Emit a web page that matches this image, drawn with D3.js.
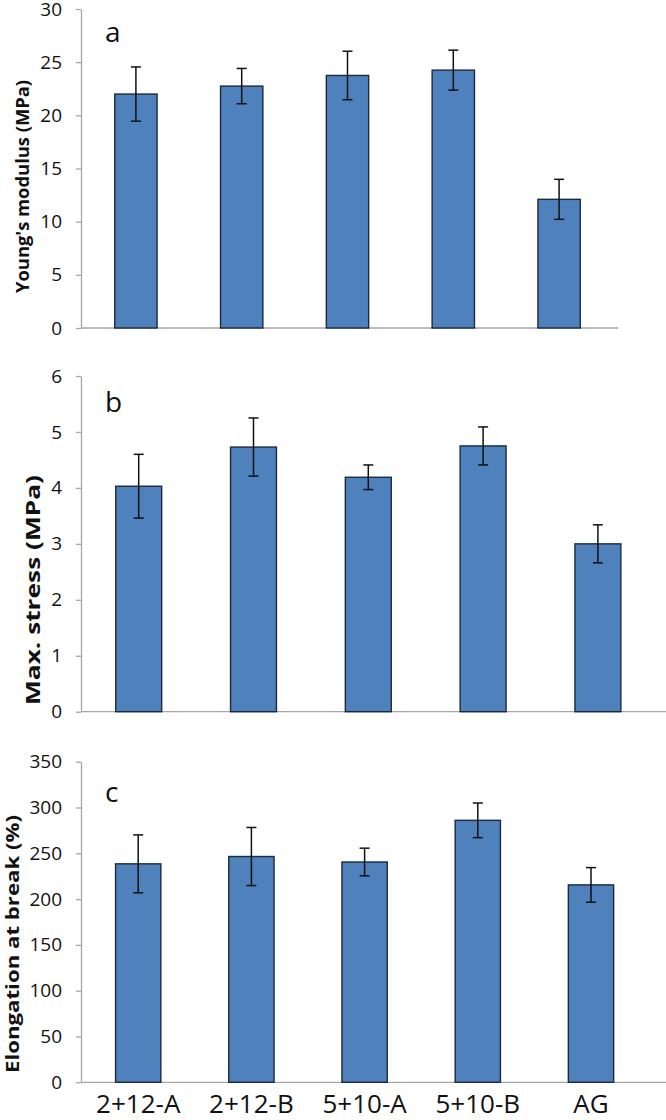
<!DOCTYPE html>
<html>
<head>
<meta charset="utf-8">
<script src="https://cdn.jsdelivr.net/npm/d3@7"></script>
<style>
  html, body { margin: 0; padding: 0; background: #ffffff; }
  svg { display: block; }
</style>
</head>
<body>
<svg id="chart" width="666" height="1120"></svg>
<script>
// ---- data ----
const categories = ["2+12-A", "2+12-B", "5+10-A", "5+10-B", "AG"];

const youngsModulus    = [22.0, 22.75, 23.75, 24.25, 12.1];
const youngsModulusErr = [2.55, 1.66, 2.28, 1.88, 1.88];

const maxStress    = [4.03, 4.73, 4.19, 4.75, 3.0];
const maxStressErr = [0.57, 0.52, 0.22, 0.34, 0.34];

const elongation    = [238.5, 246.5, 240.5, 286, 215.5];
const elongationErr = [31.6, 31.7, 15.1, 18.9, 18.9];

const ticksA = [0, 5, 10, 15, 20, 25, 30];
const ticksB = [0, 1, 2, 3, 4, 5, 6];
const ticksC = [0, 50, 100, 150, 200, 250, 300, 350];

// ---- layout ----
const svg = d3.select("#chart");
const FONT = "'Open Sans', 'Noto Sans', sans-serif";

const panels = [
  { label: "a", values: youngsModulus, errs: youngsModulusErr, ticks: ticksA,
    title: "Young's modulus (MPa)", titleSize: 18, titleLen: 213, titleX: 22, titleY: 186.5,
    xr: [83, 612], axisEnd: 618, yr: [328, 9], labelY: 42 },
  { label: "b", values: maxStress, errs: maxStressErr, ticks: ticksB,
    title: "Max. stress (MPa)", titleSize: 20, titleLen: 230, titleX: 32, titleY: 590,
    xr: [81.3, 655.3], axisEnd: 666, yr: [711.7, 376], labelY: 412 },
  { label: "c", values: elongation, errs: elongationErr, ticks: ticksC,
    title: "Elongation at break (%)", titleSize: 17, titleLen: 258, titleX: 12, titleY: 944,
    xr: [81.6, 647.6], axisEnd: 666, yr: [1082.3, 761.7], labelY: 802 }
];

const axisX = 81;

panels.forEach((p, pi) => {
  const g = svg.append("g");
  const x = d3.scalePoint().domain(categories).range(p.xr).padding(0.5);
  const step = x.step();
  const bw = step * 0.4;
  const y = d3.scaleLinear()
    .domain([0, p.ticks[p.ticks.length - 1]])
    .range(p.yr);

  // y axis
  const yAxis = d3.axisLeft(y).tickValues(p.ticks).tickFormat(d3.format("d"))
    .tickSize(5).tickPadding(14).tickSizeOuter(0);
  const ya = g.append("g").attr("transform", `translate(${axisX},0)`).call(yAxis);
  ya.select(".domain").attr("stroke", "#a6a6a6").attr("stroke-width", 1.3);
  ya.selectAll(".tick line").attr("stroke", "#a6a6a6").attr("stroke-width", 1.3);
  ya.selectAll(".tick text")
    .attr("font-family", FONT).attr("font-size", 19).attr("fill", "#111");

  // x axis line
  g.append("line")
    .attr("x1", axisX).attr("x2", p.axisEnd)
    .attr("y1", y(0)).attr("y2", y(0))
    .attr("stroke", "#a6a6a6").attr("stroke-width", 1.3);

  // bars
  g.selectAll("rect.bar").data(p.values).join("rect")
    .attr("class", "bar")
    .attr("x", (d, i) => x(categories[i]) - bw / 2)
    .attr("width", bw)
    .attr("y", d => y(d))
    .attr("height", d => y(0) - y(d))
    .attr("fill", "#4f81bd")
    .attr("stroke", "#1c2a3b")
    .attr("stroke-width", 1.4);

  // error bars
  const eb = g.selectAll("g.err").data(p.values).join("g").attr("class", "err");
  eb.append("line")
    .attr("x1", (d, i) => x(categories[i])).attr("x2", (d, i) => x(categories[i]))
    .attr("y1", (d, i) => y(d + p.errs[i])).attr("y2", (d, i) => y(d - p.errs[i]));
  eb.append("line")
    .attr("x1", (d, i) => x(categories[i]) - 5).attr("x2", (d, i) => x(categories[i]) + 5)
    .attr("y1", (d, i) => y(d + p.errs[i])).attr("y2", (d, i) => y(d + p.errs[i]));
  eb.append("line")
    .attr("x1", (d, i) => x(categories[i]) - 5).attr("x2", (d, i) => x(categories[i]) + 5)
    .attr("y1", (d, i) => y(d - p.errs[i])).attr("y2", (d, i) => y(d - p.errs[i]));
  eb.selectAll("line").attr("stroke", "#111").attr("stroke-width", 1.5);

  // panel letter
  g.append("text")
    .attr("x", 105).attr("y", p.labelY)
    .attr("font-family", FONT).attr("font-size", 28)
    .attr("fill", "#111")
    .text(p.label);

  // y title
  g.append("text")
    .attr("transform", `translate(${p.titleX},${p.titleY}) rotate(-90)`)
    .attr("text-anchor", "middle")
    .attr("dominant-baseline", "central")
    .attr("font-family", FONT).attr("font-weight", "bold")
    .attr("font-size", p.titleSize)
    .attr("textLength", p.titleLen).attr("lengthAdjust", "spacingAndGlyphs")
    .attr("fill", "#111")
    .text(p.title);

  // category labels only under the last panel
  if (pi === panels.length - 1) {
    g.selectAll("text.cat").data(categories).join("text")
      .attr("class", "cat")
      .attr("x", d => x(d))
      .attr("y", 1113)
      .attr("text-anchor", "middle")
      .attr("font-family", FONT).attr("font-size", 26)
      .attr("fill", "#111")
      .text(d => d);
  }
});
</script>
</body>
</html>
